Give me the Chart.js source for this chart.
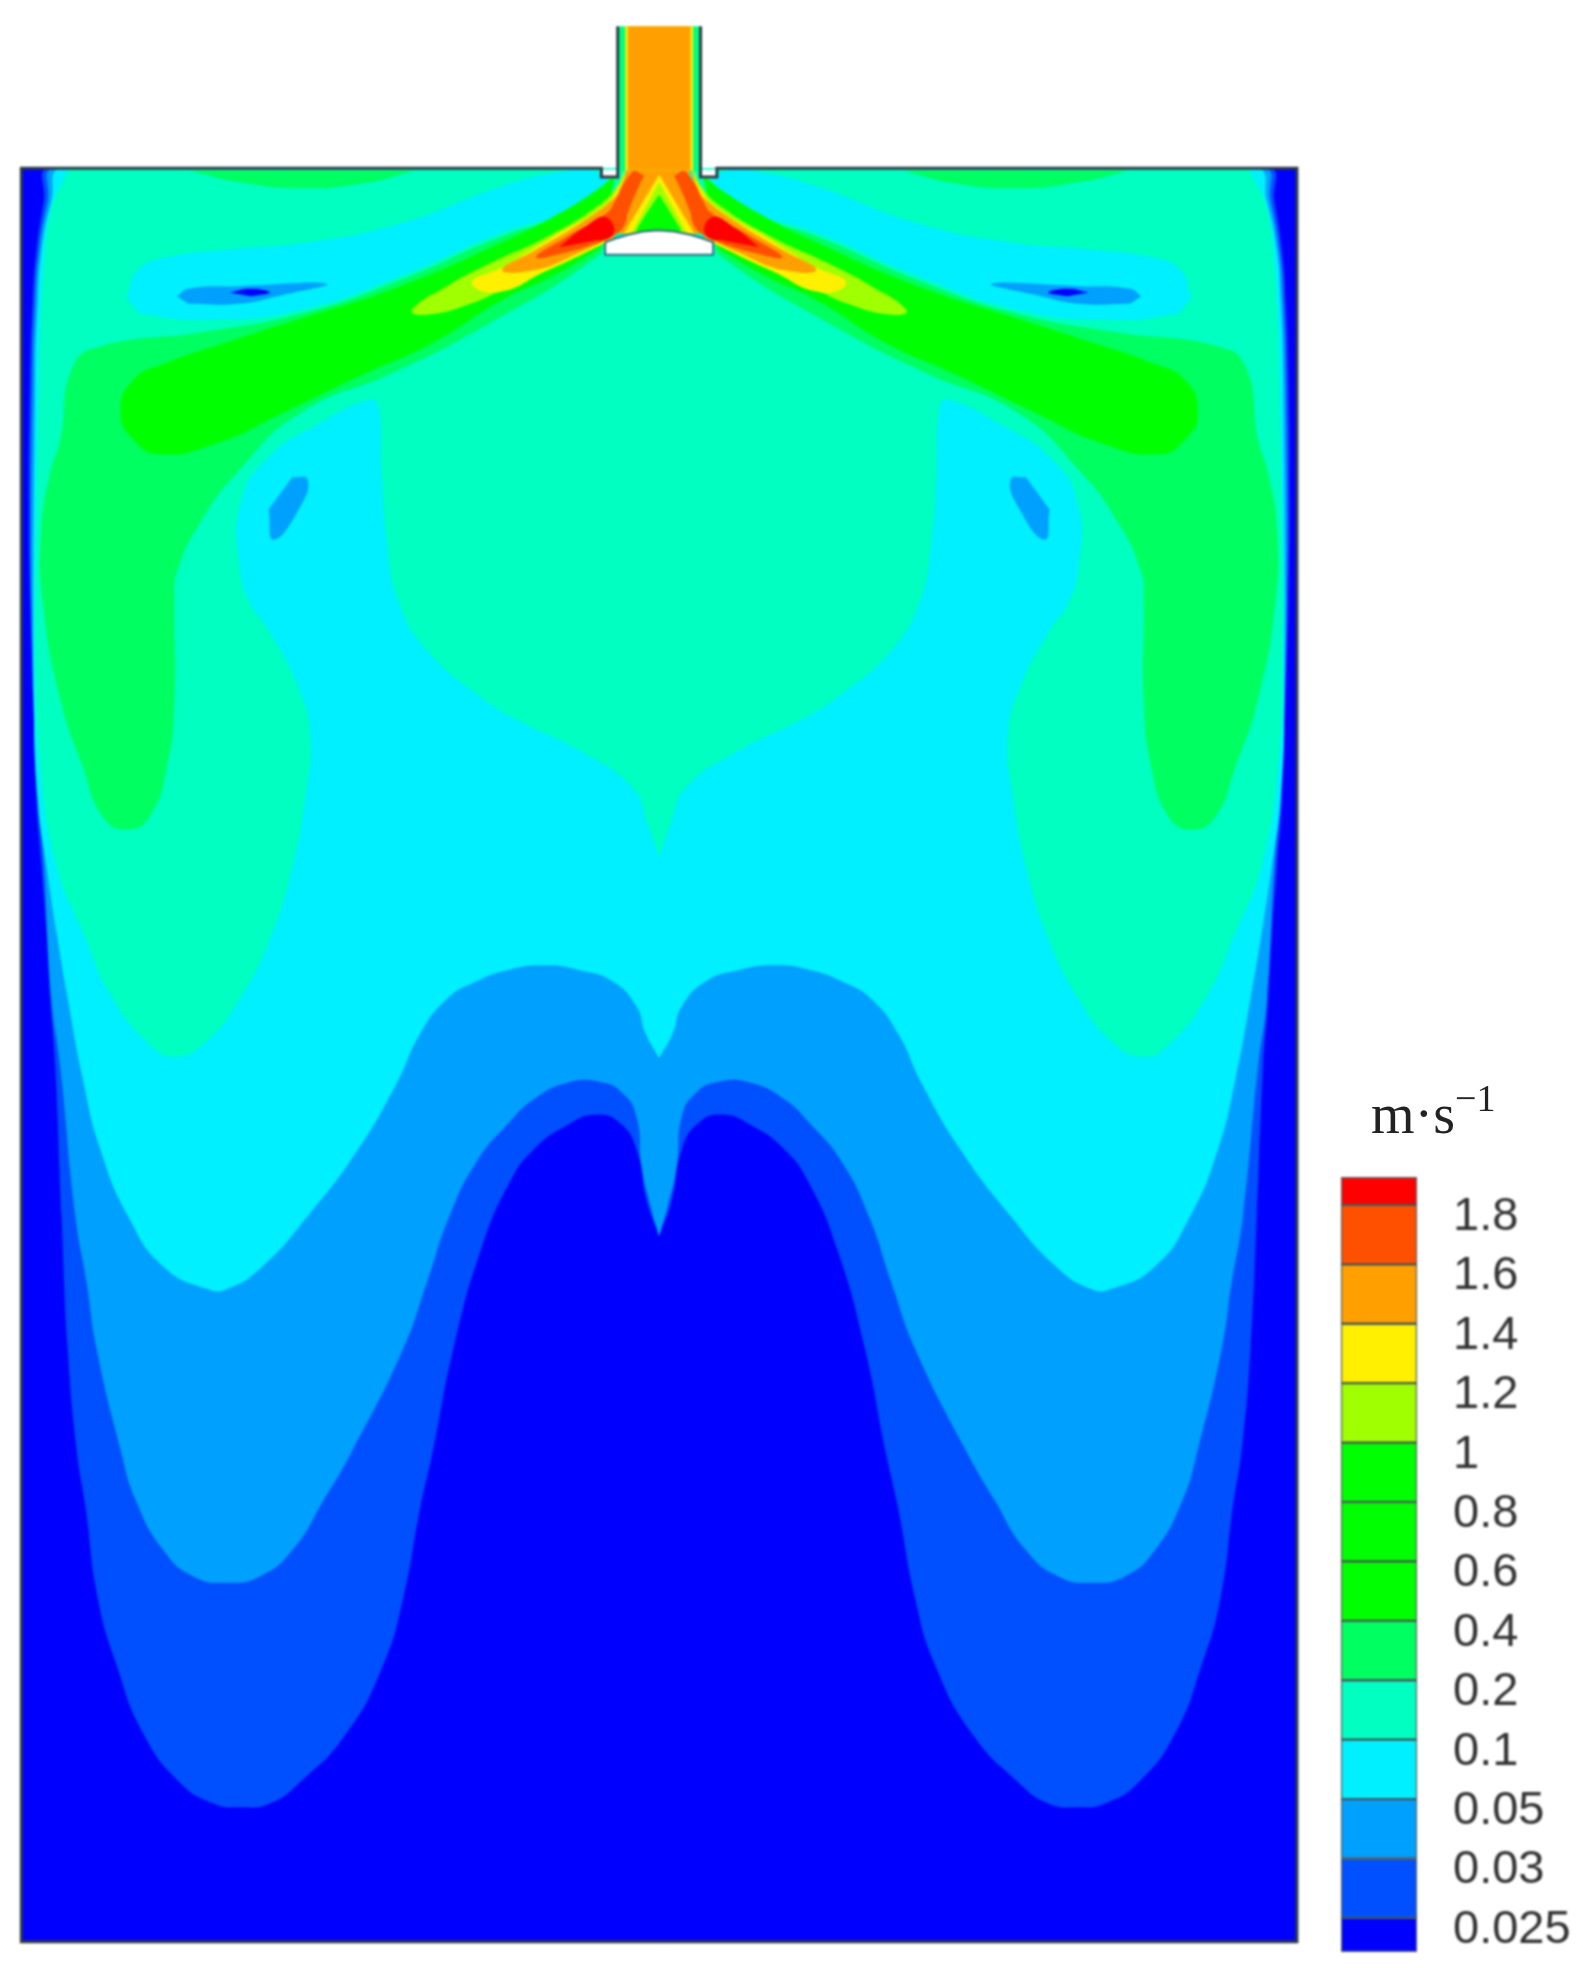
<!DOCTYPE html>
<html>
<head>
<meta charset="utf-8">
<style>
  html, body { margin: 0; padding: 0; background: #fff; }
  body { width: 1592px; height: 1968px; position: relative; overflow: hidden; }
  canvas { position: absolute; filter: blur(0.8px); }
  #field { left: 0; top: 0; }
  #bar { left: 1341px; top: 1177px; }
  #unit { position: absolute; left: 1371px; top: 1084px; font: 56px "Liberation Serif", serif; color: #222; filter: blur(0.6px); line-height: 60px; white-space: nowrap; }
  #unit sup { font-size: 38px; line-height: 0; position: relative; top: -2px; }
</style>
</head>
<body>
<canvas id="field" width="1592" height="1968"></canvas>
<canvas id="bar" width="251" height="775"></canvas>
<div id="unit">m·s<sup>−1</sup></div>
<script src="https://cdn.jsdelivr.net/npm/chart.js@4/dist/chart.umd.min.js"></script>
<script>
// colour bar, top to bottom
var tickLabels = ['1.8', '1.6', '1.4', '1.2', '1', '0.8', '0.6', '0.4', '0.2', '0.1', '0.05', '0.03', '0.025'];
var levelColors = ['#ff0000', '#ff5000', '#ffa000', '#ffef00', '#a0ff00', '#00ff00', '#00ff00', '#00ff00', '#00ff60', '#00ffc0', '#00f0ff', '#00a0ff', '#0050ff', '#0000ff'];

// contours, in picture units, left half only (the tank is symmetric about x = 525)
var tank = [[17, 134], [1033, 134], [1033, 1548], [17, 1548]];
var band003 = [[525, 134], [40, 134], [35, 160], [29, 200], [26, 240], [24, 300], [23, 400], [24, 478], [27, 557], [29, 637], [33, 690], [37, 743], [40, 796], [44, 850], [49, 969], [54, 1075], [61, 1155], [68, 1200], [78, 1274], [93, 1327], [114, 1381], [143, 1420], [170, 1437], [191, 1440], [215, 1437], [239, 1420], [276, 1381], [305, 1327], [321, 1274], [335, 1200], [345, 1155], [361, 1075], [383, 996], [406, 942], [425, 916], [451, 897], [475, 888], [494, 895], [507, 916], [515, 956], [525, 985]];
var band005 = [[525, 134], [44, 134], [38, 160], [31, 200], [28, 240], [26, 300], [25, 478], [29, 611], [35, 690], [41, 796], [48, 850], [60, 969], [69, 1022], [77, 1075], [96, 1155], [108, 1195], [130, 1235], [154, 1256], [181, 1261], [207, 1256], [233, 1235], [258, 1195], [281, 1155], [321, 1075], [340, 1022], [358, 969], [380, 925], [405, 895], [425, 876], [451, 863], [478, 862], [496, 871], [507, 890], [511, 929], [518, 960], [525, 985]];
var band01 = [[525, 134], [50, 134], [41, 160], [33, 200], [30, 240], [28, 300], [27, 557], [30, 637], [37, 690], [45, 743], [54, 796], [66, 860], [80, 916], [102, 969], [130, 1009], [165, 1027], [181, 1027], [209, 1009], [245, 969], [285, 916], [316, 863], [335, 823], [356, 796], [377, 783], [404, 773], [433, 769], [462, 773], [488, 782], [507, 802], [514, 823], [525, 843]];
var band02 = [[525, 134], [60, 134], [50, 145], [40, 170], [35, 210], [32, 260], [31, 300], [29, 400], [28, 531], [32, 611], [45, 690], [66, 743], [90, 796], [119, 832], [138, 842], [162, 832], [191, 796], [217, 743], [233, 690], [243, 637], [247, 584], [236, 544], [215, 504], [198, 478], [191, 452], [191, 404], [212, 366], [255, 337], [292, 319], [301, 322], [304, 377], [308, 430], [317, 478], [340, 518], [385, 557], [409, 572], [465, 600], [504, 628], [516, 657], [525, 683]];
var band04 = [[483, 146], [462, 167], [398, 189], [319, 223], [239, 250], [159, 265], [80, 276], [58, 292], [48, 350], [40, 377], [33, 420], [34, 478], [48, 557], [66, 611], [82, 651], [101, 661], [119, 651], [133, 611], [139, 557], [139, 478], [141, 456], [159, 417], [191, 374], [239, 329], [313, 297], [382, 262], [475, 205], [483, 190]];
var topStrip04 = [[151, 136], [190, 145], [239, 150], [290, 146], [330, 136]];
var band06 = [[490, 140], [470, 155], [440, 173], [398, 194], [319, 228], [239, 254], [186, 271], [133, 289], [106, 303], [96, 329], [106, 350], [127, 362], [173, 353], [225, 329], [292, 297], [345, 273], [398, 240], [440, 220], [478, 198]];
var band12 = [[498, 133], [491, 149], [475, 165], [435, 189], [390, 210], [356, 228], [328, 247], [337, 251], [372, 243], [409, 226], [448, 208], [472, 195], [488, 190]];
var band14 = [[499, 134], [493, 149], [480, 165], [440, 189], [400, 213], [376, 225], [396, 233], [435, 216], [475, 197], [488, 190]];
var band16 = [[500, 133], [494, 150], [488, 159], [462, 178], [427, 199], [400, 215], [427, 215], [462, 201], [490, 188]];
var band18 = [[505, 135], [497, 146], [490, 160], [483, 170], [451, 189], [427, 205], [451, 201], [480, 192], [490, 187], [497, 180], [501, 167], [510, 146], [513, 140]];
var band20 = [[445, 197], [467, 180], [483, 173], [488, 187], [467, 193]];
var wedge01 = [[101, 237], [110, 215], [133, 205], [190, 198], [239, 194], [319, 178], [398, 149], [440, 138], [472, 136], [483, 146], [462, 165], [398, 186], [319, 220], [239, 247], [159, 255], [111, 250]];
var wedge005 = [[141, 236], [150, 230], [190, 228], [260, 226], [225, 235], [190, 242], [150, 242]];
var wedge0025 = [[183, 233], [200, 230], [215, 233], [200, 236]];
var spot005 = [[233, 380], [245, 382], [239, 404], [218, 430], [214, 406]];
var coreOrange = [[500, 133], [548, 133], [562, 186], [488, 186]];
var coreYellow = [[525, 139], [497, 186], [553, 186]];
var coreLime = [[525, 145], [503, 186], [547, 186]];
var coreGreen = [[525, 155], [507, 184], [543, 184]];
var pipeGreen = [[493, 21], [557, 21], [557, 136], [493, 136]];
var pipeYellow = [[498, 21], [552, 21], [552, 136], [498, 136]];
var pipeOrange = [[500, 21], [550, 21], [550, 136], [500, 136]];
var deflector = [[482, 193], [490, 190], [500, 187], [512, 184.5], [524, 183.5], [537, 184.5], [550, 187], [560, 190], [568, 193], [568, 203], [482, 203], [482, 193]];
var outsideTop = [[0, 0], [1268, 0], [1268, 133], [0, 133]];
var notch = [[479, 135], [492, 135], [492, 142], [479, 142]];
var wallLeft = [[525, 1547], [17, 1547], [17, 134], [479, 134], [479, 141], [492, 141], [492, 21]];

function mirror(pts) {
    return pts.map(function (p) { return [1050 - p[0], p[1]]; });
}
function closeAcross(half) {
    return half.concat(mirror(half).reverse());
}
function toPoints(pts) {
    return pts.map(function (p) { return { x: p[0], y: p[1] }; });
}
function area(pts, color, tension) {
    return {
        data: toPoints(pts), showLine: true, fill: 'shape', backgroundColor: color,
        borderWidth: 0, pointRadius: 0, tension: tension === undefined ? 0.5 : tension
    };
}
function wall(pts, color, width) {
    return {
        data: toPoints(pts), showLine: true, fill: false, borderColor: color,
        borderWidth: width, pointRadius: 0, tension: 0
    };
}

var layers = [];
function both(pts, color, tension) {
    layers.push(area(pts, color, tension));
    layers.push(area(mirror(pts), color, tension));
}

layers.push(area(tank, '#0000ff', 0));
layers.push(area(closeAcross(band003), '#0050ff'));
layers.push(area(closeAcross(band005), '#00a0ff'));
layers.push(area(closeAcross(band01), '#00f0ff'));
layers.push(area(closeAcross(band02), '#00ffc0'));
both(wedge01, '#00f0ff');
both(wedge005, '#00a0ff');
both(wedge0025, '#0000ff');
both(spot005, '#00a0ff');
both(topStrip04, '#00ff60');
both(band04, '#00ff60');
both(band06, '#00ff00');
both(band12, '#a0ff00');
both(band14, '#ffef00');
both(band16, '#ffa000');
layers.push(area(coreOrange, '#ffa000', 0));
layers.push(area(coreYellow, '#ffef00', 0));
layers.push(area(coreLime, '#a0ff00', 0));
layers.push(area(coreGreen, '#00ff00', 0.1));
both(band18, '#ff5000');
both(band20, '#ff0000');
layers.push(area(outsideTop, '#ffffff', 0));
both(notch, '#ffffff', 0);
layers.push(area(pipeGreen, '#00ff80', 0));
layers.push(area(pipeYellow, '#ffef00', 0));
layers.push(area(pipeOrange, '#ffa000', 0));
layers.push(area(deflector, '#ffffff', 0));
layers.push(wall(deflector, '#2f6f86', 2));
layers.push(wall(wallLeft, '#2f3a44', 3));
layers.push(wall(mirror(wallLeft), '#2f3a44', 3));

new Chart(document.getElementById('field'), {
    type: 'scatter',
    data: { datasets: layers.reverse() },
    options: {
        responsive: false,
        animation: false,
        layout: { padding: 0 },
        plugins: { legend: { display: false }, tooltip: { enabled: false } },
        scales: {
            x: { type: 'linear', min: 0, max: 1268, display: false },
            y: { type: 'linear', min: 0, max: 1568, reverse: true, display: false }
        }
    }
});

// colour bar: one floating bar per level, boundaries sit on whole tick numbers
var barLow = 0.426, barHigh = 13.47;
var levelSpans = levelColors.map(function (c, i) {
    var n = levelColors.length - 1 - i;
    return [Math.max(n, barLow), Math.min(n + 1, barHigh)];
});
new Chart(document.getElementById('bar'), {
    type: 'bar',
    data: {
        labels: ['levels'],
        datasets: levelSpans.map(function (span, i) {
            return {
                data: [span], backgroundColor: levelColors[i], borderColor: 'rgba(20,40,40,0.75)',
                borderWidth: 1.5, borderSkipped: false, barPercentage: 1, categoryPercentage: 1,
                grouped: false
            };
        })
    },
    options: {
        responsive: false,
        animation: false,
        layout: { padding: 0 },
        plugins: { legend: { display: false }, tooltip: { enabled: false } },
        scales: {
            x: { type: 'category', display: false },
            y: {
                position: 'right', min: barLow, max: barHigh,
                grid: { display: false }, border: { display: false },
                afterFit: function (scale) {
                    scale.width = 175;
                    scale.paddingTop = 0;
                    scale.paddingBottom = 0;
                },
                ticks: {
                    stepSize: 1, includeBounds: false, padding: 28, labelOffset: 12,
                    color: '#333', font: { family: 'Liberation Sans', size: 47 },
                    autoSkip: false,
                    callback: function (v) { return tickLabels[13 - v]; }
                }
            }
        }
    }
});
</script>
</body>
</html>
